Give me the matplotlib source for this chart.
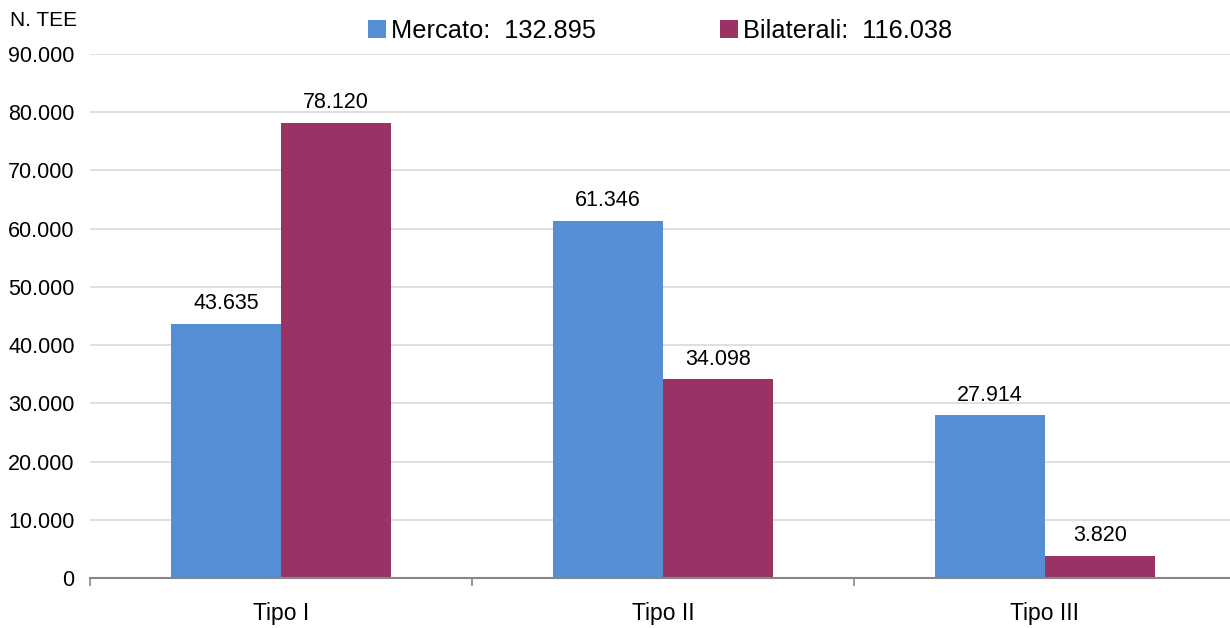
import numpy as np
import matplotlib.pyplot as plt

plt.rcParams['font.family'] = ['Liberation Sans', 'DejaVu Sans']

# TEE per tipologia, mercato vs bilaterali
categories = ["Tipo I", "Tipo II", "Tipo III"]
mercato = [43635, 61346, 27914]
bilaterali = [78120, 34098, 3820]
y_ticks = [0, 10000, 20000, 30000, 40000, 50000, 60000, 70000, 80000, 90000]

BLUE, MAROON = "#558ed5", "#993366"
GRID, AXIS = "#d9d9d9", "#868686"


def fmt(v):
    # Italian thousands separator
    return f"{v:,}".replace(",", ".")


fig = plt.figure(figsize=(12.3, 6.28), dpi=100)
ax = fig.add_axes([90 / 1230, 50 / 628, 1 - 90 / 1230, 524 / 628])

x = np.arange(len(categories))
w = 110 / 382
b1 = ax.bar(x - w / 2, mercato, width=w, color=BLUE, zorder=3,
            label=f"Mercato:  {fmt(sum(mercato))}")
b2 = ax.bar(x + w / 2, bilaterali, width=w, color=MAROON, zorder=3,
            label=f"Bilaterali:  {fmt(sum(bilaterali))}")

for bars in (b1, b2):
    for r in bars:
        h = r.get_height()
        ax.annotate(fmt(int(h)), xy=(r.get_x() + r.get_width() / 2, h),
                    xytext=(0, 7), textcoords="offset points",
                    ha="center", va="bottom", fontsize=15.5, color="black")

ax.set_xlim(-0.5, 2.5 - 6 / 382)
ax.set_ylim(0, 90000)
ax.set_yticks(y_ticks)
ax.set_yticklabels([fmt(v) for v in y_ticks], fontsize=15.5)
ax.tick_params(axis="y", length=0, pad=11)

# category labels centred, tick marks on the group boundaries
ax.set_xticks(x)
ax.set_xticklabels(categories, fontsize=16.5)
ax.tick_params(axis="x", which="major", length=0, pad=17)
ax.set_xticks([-0.5, 0.5, 1.5], minor=True)
ax.tick_params(axis="x", which="minor", length=6, color=AXIS, width=1.2)

ax.grid(axis="y", color=GRID, lw=1.2, zorder=0)
for s in ("top", "right", "left"):
    ax.spines[s].set_visible(False)
ax.spines["bottom"].set_color(AXIS)
ax.spines["bottom"].set_linewidth(1.5)
ax.spines["bottom"].set_zorder(4)

fig.text(10 / 1230, 1 - 20 / 628, "N. TEE", fontsize=15, va="center", ha="left")

fig.legend(handles=[b1, b2], loc="center", bbox_to_anchor=(660 / 1230, 1 - 31 / 628),
           ncol=2, frameon=False, fontsize=18.3, handlelength=0.7, handleheight=0.7,
           handletextpad=0.2, columnspacing=4.9)

fig.savefig("out.png", facecolor="white")
